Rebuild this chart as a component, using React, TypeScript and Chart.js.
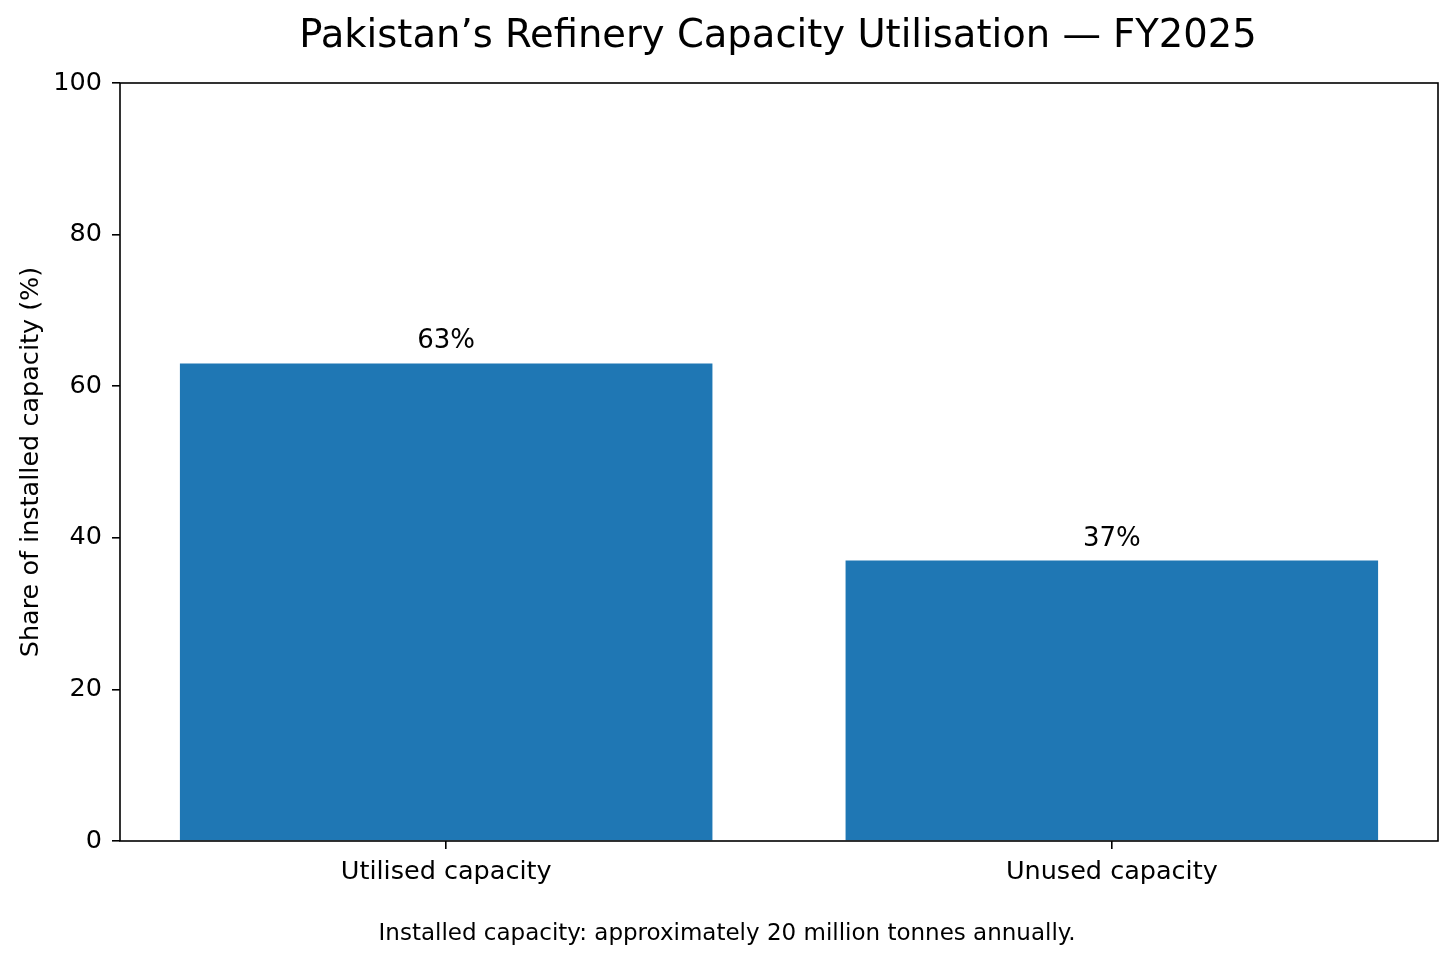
import { useEffect, useRef } from "react";
import { Chart, ChartConfiguration, Plugin, registerables } from "chart.js";

Chart.register(...registerables);

const categories = ["Utilised capacity", "Unused capacity"];
const shares = [63, 37];
const yTicks = [0, 20, 40, 60, 80, 100];

const FONT = "'DejaVu Sans', sans-serif";
const BAR_COLOR = "#1f77b4";

// frame, title, bar labels and footnote drawn straight on the canvas
const extrasPlugin: Plugin<"bar"> = {
  id: "extras",
  afterDraw(chart) {
    const { ctx, chartArea } = chart;
    const { left, right, top, bottom } = chartArea;
    ctx.save();
    ctx.strokeStyle = "#000";
    ctx.lineWidth = 1.6;
    ctx.strokeRect(left, top, right - left, bottom - top);

    ctx.fillStyle = "#000";
    ctx.textAlign = "center";
    ctx.textBaseline = "middle";
    ctx.font = `38.5px ${FONT}`;
    ctx.fillText("Pakistan\u2019s Refinery Capacity Utilisation \u2014 FY2025", 778, 37);

    ctx.font = `23px ${FONT}`;
    ctx.fillText("Installed capacity: approximately 20 million tonnes annually.", 727, 934);

    const meta = chart.getDatasetMeta(0);
    ctx.font = `26px ${FONT}`;
    ctx.textBaseline = "alphabetic";
    meta.data.forEach((bar, i) => {
      const p = bar.getProps(["x", "y"], true) as { x: number; y: number };
      ctx.fillText(`${shares[i]}%`, p.x, p.y - 15);
    });
    ctx.restore();
  },
};

export default function App() {
  const canvasRef = useRef<HTMLCanvasElement>(null);
  const chartRef = useRef<Chart | null>(null);

  useEffect(() => {
    if (!canvasRef.current) return;
    if (chartRef.current) chartRef.current.destroy();
    const ctx = canvasRef.current.getContext("2d");
    if (!ctx) return;

    const config: ChartConfiguration<"bar"> = {
      type: "bar",
      data: {
        datasets: [{
          data: shares.map((v, i) => ({ x: i, y: v })),
          backgroundColor: BAR_COLOR,
          borderWidth: 0,
          barPercentage: 0.8,
          categoryPercentage: 1,
        }],
      },
      options: {
        responsive: true,
        maintainAspectRatio: false,
        animation: false,
        layout: { padding: { top: 83, right: 18, left: 0, bottom: 0 } },
        plugins: {
          legend: { display: false },
          tooltip: { enabled: false },
        },
        scales: {
          x: {
            type: "linear",
            min: -0.49,
            max: 1.49,
            offset: false,
            afterBuildTicks: (scale) => {
              scale.ticks = categories.map((_, i) => ({ value: i }));
            },
            grid: {
              display: true,
              offset: false,
              drawOnChartArea: false,
              drawTicks: true,
              tickLength: 8,
              color: "#000",
              lineWidth: 1.6,
            },
            border: { display: false },
            ticks: {
              color: "#000",
              font: { family: FONT, size: 25.5 },
              padding: 8,
              callback: (v) => categories[Number(v)] ?? "",
            },
            afterFit: (scale) => { scale.height = 123; },
          },
          y: {
            min: 0,
            max: 100,
            afterBuildTicks: (scale) => {
              scale.ticks = yTicks.map((v) => ({ value: v }));
            },
            grid: {
              display: true,
              drawOnChartArea: false,
              drawTicks: true,
              tickLength: 8,
              color: "#000",
              lineWidth: 1.6,
            },
            border: { display: false },
            ticks: {
              color: "#000",
              font: { family: FONT, size: 25.5 },
              padding: 10,
            },
            title: {
              display: true,
              text: "Share of installed capacity (%)",
              color: "#000",
              font: { family: FONT, size: 25.5 },
              padding: { top: 16, bottom: 0 },
            },
            afterFit: (scale) => { scale.width = 120; },
          },
        },
      },
      plugins: [extrasPlugin],
    };

    chartRef.current = new Chart(ctx, config);
    return () => {
      if (chartRef.current) {
        chartRef.current.destroy();
        chartRef.current = null;
      }
    };
  }, []);

  return (
    <div style={{ position: "absolute", left: 0, top: 0, width: 1456, height: 964, background: "#fff" }}>
      <canvas ref={canvasRef} />
    </div>
  );
}
